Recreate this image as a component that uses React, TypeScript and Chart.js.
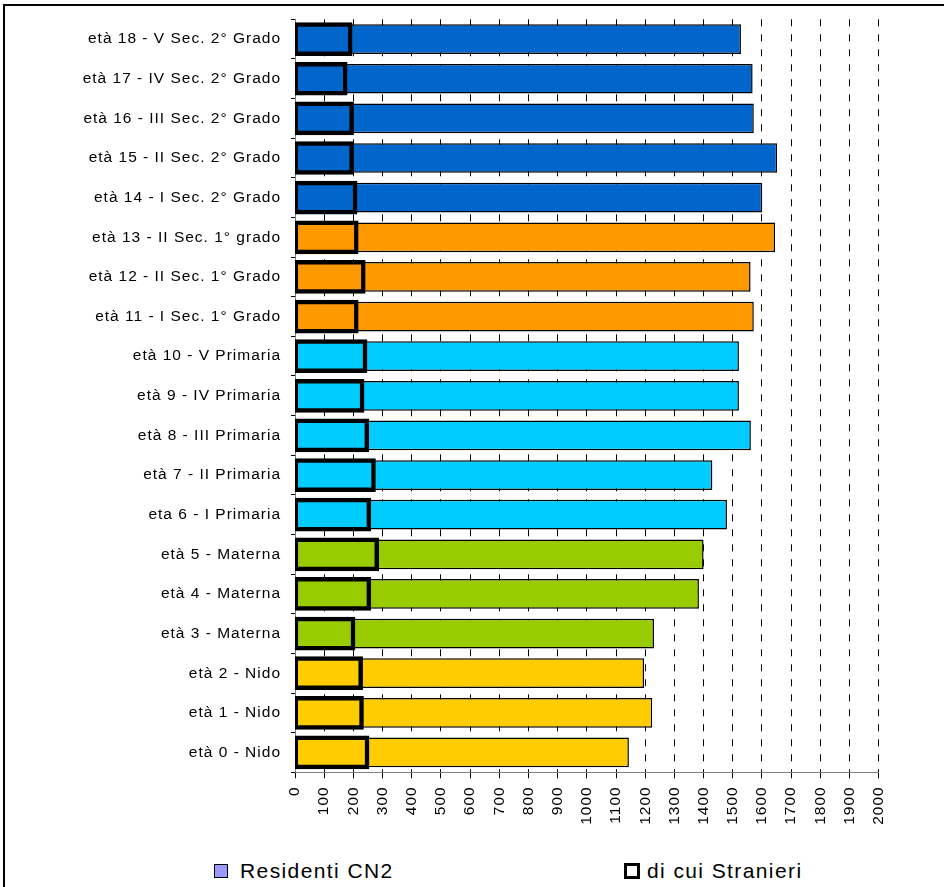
import React, { useEffect, useRef } from 'react';
import { Chart, registerables } from 'chart.js';

Chart.register(...registerables);

// ---- data (bottom to top) ----
const categories = [
  'età 0 - Nido',
  'età 1 - Nido',
  'età 2 - Nido',
  'età 3 - Materna',
  'età 4 - Materna',
  'età 5 - Materna',
  'eta 6 - I Primaria',
  'età 7 - II Primaria',
  'età 8 - III Primaria',
  'età 9 - IV Primaria',
  'età 10 - V Primaria',
  'età 11 - I Sec. 1° Grado',
  'età 12 - II Sec. 1° Grado',
  'età 13 - II Sec. 1° grado',
  'età 14 - I Sec. 2° Grado',
  'età 15 - II Sec. 2° Grado',
  'età 16 - III Sec. 2° Grado',
  'età 17 - IV Sec. 2° Grado',
  'età 18 - V Sec. 2° Grado',
];

const levels = [
  'Nido', 'Nido', 'Nido',
  'Materna', 'Materna', 'Materna',
  'Primaria', 'Primaria', 'Primaria', 'Primaria', 'Primaria',
  'Sec1', 'Sec1', 'Sec1',
  'Sec2', 'Sec2', 'Sec2', 'Sec2', 'Sec2',
];

const residenti = [1144, 1224, 1196, 1230, 1384, 1400, 1480, 1430, 1562, 1521, 1521, 1572, 1561, 1645, 1601, 1652, 1572, 1568, 1528];
const stranieri = [248, 229, 226, 200, 254, 281, 254, 270, 247, 231, 241, 211, 235, 211, 207, 195, 195, 173, 190];

const seriesNames = ['Residenti CN2', 'di cui Stranieri'];

const axisMin = 0;
const axisMax = 2000;
const axisStep = 100;

// ---- styles ----
const LEVEL_COLORS: Record<string, string> = {
  Nido: '#FFCC00',
  Materna: '#99CC00',
  Primaria: '#00CCFF',
  Sec1: '#FF9900',
  Sec2: '#0066CC',
};

const FONT_FAMILY = "'Liberation Sans', Arial, Helvetica, sans-serif";
const SPACING = '1px';

const spacingPlugin = {
  id: 'letterSpacingPlugin',
  beforeUpdate(chart: any) {
    try { chart.ctx.letterSpacing = SPACING; } catch (e) { /* ignore */ }
  },
  beforeLayout(chart: any) {
    try { chart.ctx.letterSpacing = SPACING; } catch (e) { /* ignore */ }
  },
  beforeDraw(chart: any) {
    try { chart.ctx.letterSpacing = SPACING; } catch (e) { /* ignore */ }
  },
};

export default function App() {
  const canvasRef = useRef<HTMLCanvasElement | null>(null);

  useEffect(() => {
    const canvas = canvasRef.current;
    if (!canvas) return;
    const chart = new Chart(canvas, {
      type: 'bar',
      data: {
        labels: categories,
        datasets: [
          {
            label: seriesNames[0],
            data: residenti,
            backgroundColor: levels.map((l) => LEVEL_COLORS[l]),
            borderColor: '#000000',
            borderWidth: 1.5,
            borderSkipped: false,
            inflateAmount: 0,
            grouped: false,
            order: 2,
            barPercentage: 0.75,
            categoryPercentage: 1,
          } as any,
          {
            label: seriesNames[1],
            data: stranieri,
            backgroundColor: 'rgba(0,0,0,0)',
            borderColor: '#000000',
            borderWidth: 0.5,
            inflateAmount: 2,
            borderSkipped: false,
            grouped: false,
            order: 1,
            barPercentage: 0.75,
            categoryPercentage: 1,
          } as any,
        ],
      },
      options: {
        indexAxis: 'y',
        responsive: false,
        maintainAspectRatio: false,
        animation: false,
        devicePixelRatio: 1,
        layout: { padding: { top: 12.7, right: 65.3, bottom: 0, left: 0 } },
        plugins: {
          legend: { display: false },
          tooltip: { enabled: false },
          title: { display: false },
        },
        scales: {
          x: {
            type: 'linear',
            position: 'bottom',
            min: axisMin,
            max: axisMax,
            ticks: {
              stepSize: axisStep,
              autoSkip: false,
              maxRotation: 90,
              minRotation: 90,
              color: '#000000',
              padding: 8,
              font: { family: FONT_FAMILY, size: 15.5 },
              callback: (v: any) => String(v),
            },
            grid: {
              color: '#000000',
              lineWidth: 1,
              tickLength: 6,
              tickColor: '#000000',
              drawOnChartArea: true,
            },
            border: { color: '#808080', width: 1, dash: [7, 8] },
            afterFit: (s: any) => { s.height = 77.7; },
          },
          y: {
            type: 'category',
            reverse: true,
            offset: true,
            ticks: {
              color: '#000000',
              padding: 10,
              autoSkip: false,
              font: { family: FONT_FAMILY, size: 15.5 },
            },
            grid: {
              drawOnChartArea: false,
              tickLength: 4,
              color: '#000000',
              offset: true,
            },
            border: { color: '#808080', width: 1 },
            afterFit: (s: any) => { s.width = 295; },
          },
        },
      } as any,
      plugins: [spacingPlugin],
    });
    return () => chart.destroy();
  }, []);

  const legendText: React.CSSProperties = {
    position: 'absolute',
    top: 859,
    height: 24,
    lineHeight: '24px',
    fontFamily: FONT_FAMILY,
    fontSize: 21,
    letterSpacing: '1.4px',
    color: '#000',
    whiteSpace: 'nowrap',
  };

  return (
    <div
      style={{
        position: 'absolute',
        left: 0,
        top: 0,
        width: 944,
        height: 887,
        overflow: 'hidden',
        background: '#fff',
      }}
    >
      <div
        style={{
          position: 'absolute',
          left: 3,
          top: 4,
          width: 1200,
          height: 1200,
          borderLeft: '2px solid #000',
          borderTop: '2px solid #000',
          boxSizing: 'border-box',
        }}
      />
      <canvas
        ref={canvasRef}
        width={944}
        height={850}
        style={{ position: 'absolute', left: 0, top: 0, width: 944, height: 850 }}
      />
      <div
        style={{
          position: 'absolute',
          left: 214,
          top: 864,
          width: 14,
          height: 14,
          background: '#9999FF',
          border: '1px solid #000',
          boxSizing: 'border-box',
        }}
      />
      <div style={{ ...legendText, left: 240 }}>{seriesNames[0]}</div>
      <div
        style={{
          position: 'absolute',
          left: 624,
          top: 863,
          width: 16,
          height: 16,
          background: '#fff',
          border: '3px solid #000',
          boxSizing: 'border-box',
        }}
      />
      <div style={{ ...legendText, left: 647 }}>{seriesNames[1]}</div>
    </div>
  );
}
